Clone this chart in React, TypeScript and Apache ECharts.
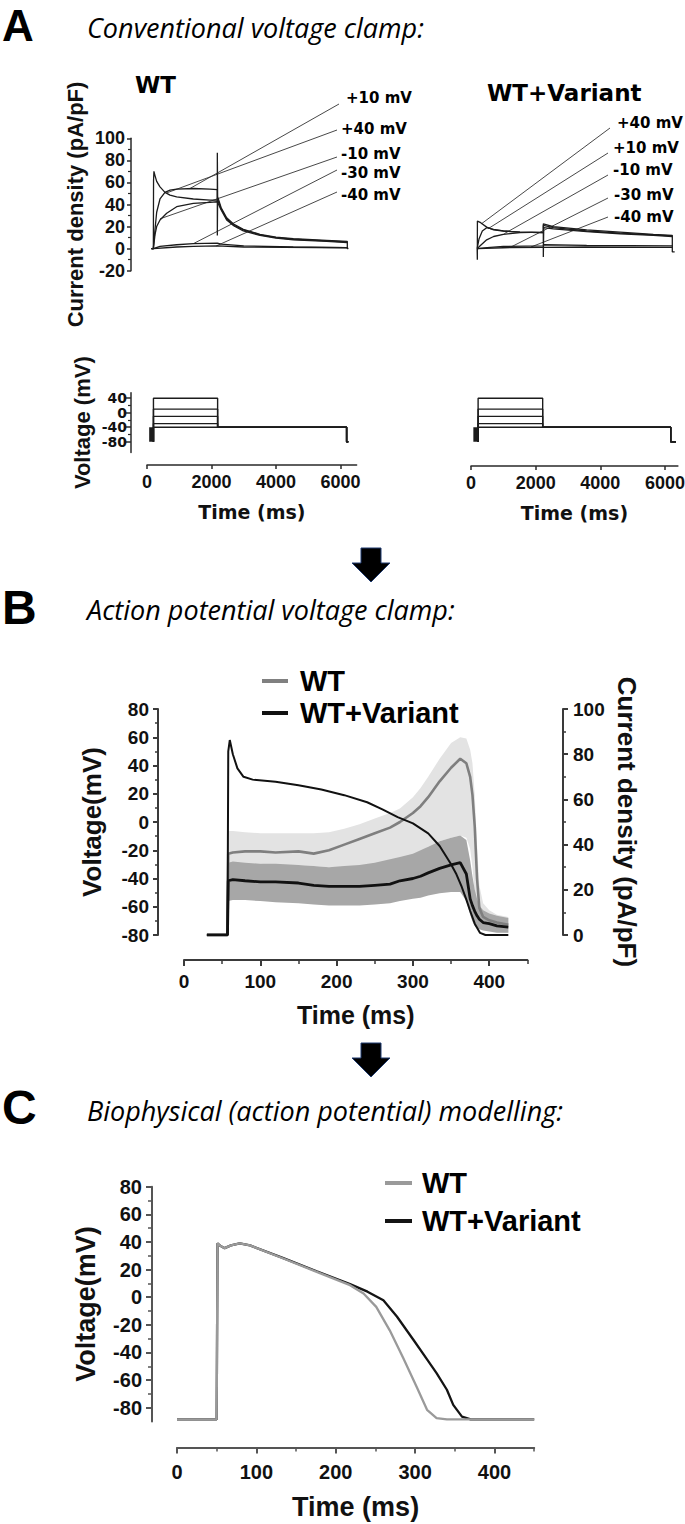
import React, { useEffect, useRef } from 'react';
import * as echarts from 'echarts';

const SANS = 'Liberation Sans, Arial, sans-serif';
const WIDE = 'DejaVu Sans, sans-serif';
const ITAL = 'Open Sans, Lato, sans-serif';

// ---------------- Panel A: conventional voltage clamp ----------------
const stepLabels = ['+40 mV', '+10 mV', '-10 mV', '-30 mV', '-40 mV'];
const testVoltages = [40, 10, -10, -30, -40];
const tailVoltage = -40;
const holdingVoltage = -80;
// [step on, step off, return to holding, end] in ms
const wtStepTimes = [200, 2190, 6190, 6243];
const wvStepTimes = [220, 2217, 6177, 6341];
const wtPrepulseTime = 145;
const wvPrepulseTime = 150;

const aTimeTicks = [0, 2000, 4000, 6000];
const aVoltTicks = [-80, -40, 0, 40];
const aVoltMinor = [-60, -20, 20];

// WT current density traces (ms, pA/pF)
const wtI_p40 = [[140,0],[197,0],[203,62],[215,70],[250,66],[300,61],[403,56],[558,51],[713,48.5],[920,47],[1437,45],[1953,44],[2181,44],[2181,87],[2190,47],[2300,37],[2470,28],[2700,22],[2987,17.5],[3504,13],[4000,10.5],[4537,9],[5571,7.5],[6212,6.5],[6212,0],[6240,0]];
const wtI_p10 = [[140,0],[197,0],[250,18],[300,33],[403,45],[558,51],[713,53],[920,54],[1437,54.5],[1953,54],[2181,53.5],[2181,12],[2190,45],[2300,36],[2470,27],[2700,21],[2987,17],[3504,12.5],[4000,10],[4537,8.5],[5571,7],[6212,6]];
const wtI_m10 = [[140,0],[197,0],[250,13],[300,20],[403,26],[610,32],[920,38],[1437,41],[1953,42],[2181,42.5],[2190,42],[2300,35],[2470,26],[2700,20.5],[2987,16],[3504,12],[4000,9.5],[4537,8],[5571,6.5],[6212,5.5]];
const wtI_m30 = [[140,0],[197,0],[403,2],[920,3.5],[1437,4.5],[2181,5],[2300,4],[3000,2.5],[4537,1.5],[6212,1]];
const wtI_m40 = [[140,0],[197,0],[920,1.5],[1437,2],[2181,2.5],[3000,1.5],[6212,0.8],[6240,0]];

// WT+Variant current density traces (ms, pA/pF)
const wvI_p40 = [[190,0],[196,-10],[198,25],[300,23.5],[485,19.5],[700,17],[1000,16],[1516,15],[2237,14.5],[2237,22.5],[2547,20],[3578,17],[4609,15],[5640,13],[6227,12],[6227,-3],[6300,-3]];
const wvI_p10 = [[190,0],[200,0],[250,9],[350,16],[485,19],[700,17.5],[1000,16],[1516,15],[2237,14.5],[2237,21],[2547,19],[3578,16],[4609,14],[5640,12.5],[6227,11.5]];
const wvI_m10 = [[190,0],[200,0],[300,3],[485,8],[700,11],[1000,13],[1516,14.5],[2237,15],[2237,-7.5],[2250,19],[2547,18],[3578,15.5],[4609,13.5],[5640,12],[6227,11]];
const wvI_m30 = [[190,0],[200,0],[500,1],[1000,2],[2237,2.5],[2250,3.5],[3578,3],[6227,2.5]];
const wvI_m40 = [[190,0],[200,0],[1000,0.8],[2237,1.2],[3578,1.5],[6227,1.2]];

// label annotations: target in data coords, leader start and text anchor in px
const wtAnnot = [
  { label: '+10 mV', target: [1333, 54.5], lineStart: [339, 104], text: [346, 98] },
  { label: '+40 mV', target: [610, 50.5], lineStart: [337, 130], text: [341, 129] },
  { label: '-10 mV', target: [403, 27], lineStart: [337, 157], text: [341, 154] },
  { label: '-30 mV', target: [1437, 4.5], lineStart: [337, 170], text: [341, 173] },
  { label: '-40 mV', target: [2150, 2.5], lineStart: [337, 192], text: [341, 195] },
];
const wvAnnot = [
  { label: '+40 mV', target: [331, 22.7], lineStart: [610, 128], text: [617, 123] },
  { label: '+10 mV', target: [537, 18.2], lineStart: [608, 153], text: [613, 148] },
  { label: '-10 mV', target: [1030, 13.6], lineStart: [608, 175], text: [613, 170] },
  { label: '-30 mV', target: [1237, 1.5], lineStart: [608, 198], text: [614, 195] },
  { label: '-40 mV', target: [1856, 1.5], lineStart: [608, 217], text: [614, 217] },
];

// ---------------- Panel B: action potential voltage clamp ----------------
const tB = [30, 57, 58, 64, 80, 100, 120, 150, 170, 190, 210, 230, 250, 270, 283, 300, 310, 320, 335, 350, 362, 370, 375, 378, 381, 384, 387, 392, 400, 410, 425];
const wtMean = [0,0,36,36.5,37,37,36.5,37,36,37.5,40,42.5,45,47.5,50,54,57,61,68,74,78,76,70,62,48,25,12,8,6.5,5.5,4.5];
const wtHi = [0.5,0.5,46,46,45.5,45,45,45,45,45.5,47,49,51.5,54,56,61,65,70,78,85,87.5,87,82,76,62,40,22,14,11,9,8];
const wtLo = [-0.5,-0.5,30,31.5,31.5,31.5,31,31,30.5,30,30,30.5,31,32,33.5,35,37,39,41.5,43,44,43,38,30,18,8,4,3,2,1.5,1];
const wvMean = [0,0,24,24.5,24,23.5,23.5,23,22,21.5,21.5,21.5,22,22.5,24,25,26,27.5,29.5,31,32,27,16,13,10.5,8.5,7,5.5,5,4,3.5];
const wvHi = [0.5,0.5,32,32.5,32,31.5,31.5,31,30.5,30,30.5,31,32,33.5,34.5,36,37.5,39,41.5,43,44,42,33,26,20,16,13,11,9.5,8.5,7.5];
const wvLo = [-0.5,-0.5,15,15.5,15.5,15,14.5,14,13.5,13,13,13,13.5,14,15,16,16.5,17.5,18.5,19,19,15,9,6,4,3,2.5,2,1.5,1,1];
const tAP = [30,57,58,60,64,70,78,90,120,150,180,210,240,260,280,300,320,335,349,357,364,370,375,381,388,395,425];
const vAP = [-80,-80,50,58,48,38,32,30,28.5,26,23,19,14,9,3.5,-1,-8,-17,-29,-37,-46,-55,-63,-72,-78.5,-80,-80];

const bcTimeTicks = [0, 100, 200, 300, 400];
const bcTimeMinor = [50, 150, 250, 350, 450];

// ---------------- Panel C: modelling ----------------
const cWT = [[0,-88.5],[50,-88.5],[51,39],[55,37],[60,35.5],[68,37.5],[79,39],[92,37.5],[134,28],[176,18.3],[218,8.7],[235,2.7],[251,-7],[268,-24],[285,-44],[302,-65],[315,-81.5],[327,-87.5],[340,-88.5],[450,-88.5]];
const cWV = [[0,-88.5],[50,-88.5],[51,39],[55,37],[60,35.5],[68,37.5],[79,39],[92,37.5],[134,28.3],[176,18.8],[218,9.5],[240,4],[260,-2.2],[277,-14],[298,-31],[315,-45],[327,-55],[340,-67],[348,-78],[359,-86.5],[370,-88.5],[450,-88.5]];
const cVoltTicks = [-80, -60, -40, -20, 0, 20, 40, 60, 80];
const cVoltMinor = [-70, -50, -30, -10, 10, 30, 50, 70];

// ------------------------------------------------------------------
const lineSeries = (name: string, data: any[], xi: number, yi: number, color: string, width: number, z = 2) => ({
  type: 'line', name, data, xAxisIndex: xi, yAxisIndex: yi, symbol: 'none', showSymbol: false,
  lineStyle: { color, width }, itemStyle: { color }, silent: true, z,
});

const stepTrace = (v: number, t: number[]) => [
  [t[0], holdingVoltage], [t[0], v], [t[1], v], [t[1], tailVoltage], [t[2], tailVoltage], [t[2], holdingVoltage], [t[3], holdingVoltage],
];

const bold = (family: string, size: number, extra: any = {}) => ({ fontFamily: family, fontWeight: 'bold', fontSize: size, color: '#111', ...extra });
const axLine = (color: string, width: number) => ({ show: true, onZero: false, lineStyle: { color, width } });
const plain = (v: number) => String(v);

function buildOption() {
  const A_COL = '#2a2a2a';
  const B_COL = '#3a3a3a';
  const C_COL = '#555';
  const grid = [
    { left: 147, top: 138.3, width: 209.6, height: 132.4 },
    { left: 147, top: 392.8, width: 209.6, height: 59.8 },
    { left: 471, top: 138.3, width: 206.9, height: 132.4 },
    { left: 471, top: 392.8, width: 206.9, height: 59.8 },
    { left: 184, top: 709, width: 343.4, height: 226 },
    { left: 177, top: 1186.7, width: 357.2, height: 234.8 },
  ].map((g) => ({ ...g, containLabel: false, outerBoundsMode: 'none' }));

  const hiddenX = (gi: number, max: number) => ({ type: 'value', gridIndex: gi, min: 0, max, show: false, axisLine: { show: false, onZero: false }, splitLine: { show: false } });
  const aTimeAxis = (gi: number, max: number, offset: number) => ({
    type: 'value', gridIndex: gi, min: 0, max, offset, position: 'bottom',
    axisLine: axLine(A_COL, 1.5),
    axisTick: { show: true, customValues: aTimeTicks, length: 4, lineStyle: { color: A_COL, width: 1.5 } },
    axisLabel: { customValues: aTimeTicks, margin: 8, formatter: plain, ...bold(SANS, 18) },
    splitLine: { show: false },
    name: 'Time (ms)', nameLocation: 'middle', nameGap: 37, nameMoveOverlap: false,
    nameTextStyle: bold(WIDE, 19, { lineHeight: 19 }),
  });
  const bcTime = (gi: number, offset: number, color: string, labelSize: number, margin: number, nameSize: number, nameGap: number) => [
    {
      type: 'value', gridIndex: gi, min: 0, max: 450, offset, position: 'bottom',
      axisLine: axLine(color, 2),
      axisTick: { show: true, customValues: bcTimeTicks, length: 6, lineStyle: { color, width: 2 } },
      axisLabel: { customValues: bcTimeTicks, margin, formatter: plain, ...bold(SANS, labelSize) },
      splitLine: { show: false },
      name: 'Time (ms)', nameLocation: 'middle', nameGap, nameMoveOverlap: false,
      nameTextStyle: bold(SANS, nameSize, { lineHeight: nameSize }),
    },
    {
      type: 'value', gridIndex: gi, min: 0, max: 450, offset, position: 'bottom',
      axisLine: { show: false, onZero: false },
      axisTick: { show: true, customValues: bcTimeMinor, length: 4, lineStyle: { color, width: 1.5 } },
      axisLabel: { show: false }, splitLine: { show: false },
    },
  ];

  const xAxis = [
    hiddenX(0, 6500),
    aTimeAxis(1, 6500, 12.4),
    hiddenX(2, 6400),
    aTimeAxis(3, 6400, 13.4),
    ...bcTime(4, 25, B_COL, 19, 12, 25, 42),
    ...bcTime(5, 26, C_COL, 20, 14, 27, 46),
  ];

  const yAxis = [
    {
      type: 'value', gridIndex: 0, position: 'left', min: -20, max: 100, interval: 20, offset: 16,
      axisLine: axLine(A_COL, 1.5),
      axisTick: { show: true, length: 4, lineStyle: { color: A_COL, width: 1.5 } },
      minorTick: { show: true, splitNumber: 2, length: 3, lineStyle: { color: A_COL, width: 1.2 } },
      axisLabel: { margin: 6, formatter: plain, ...bold(SANS, 18) },
      splitLine: { show: false }, minorSplitLine: { show: false },
      name: 'Current density (pA/pF)', nameLocation: 'middle', nameRotate: 90, nameGap: 45, nameMoveOverlap: false,
      nameTextStyle: bold(SANS, 22, { lineHeight: 22 }),
    },
    {
      type: 'value', gridIndex: 1, position: 'left', min: -110, max: 55, offset: 16,
      axisLine: axLine(A_COL, 1.5),
      axisTick: { show: true, customValues: aVoltTicks, length: 5, lineStyle: { color: A_COL, width: 1.5 } },
      axisLabel: { customValues: aVoltTicks, margin: 4, formatter: plain, ...bold(WIDE, 14) },
      splitLine: { show: false },
      name: 'Voltage (mV)', nameLocation: 'middle', nameRotate: 90, nameGap: 38, nameMoveOverlap: false,
      nameTextStyle: bold(SANS, 22, { lineHeight: 22 }),
    },
    {
      type: 'value', gridIndex: 1, position: 'left', min: -110, max: 55, offset: 16,
      axisLine: { show: false, onZero: false },
      axisTick: { show: true, customValues: aVoltMinor, length: 3, lineStyle: { color: A_COL, width: 1.2 } },
      axisLabel: { show: false }, splitLine: { show: false },
    },
    { type: 'value', gridIndex: 2, min: -20, max: 100, show: false, axisLine: { show: false, onZero: false }, splitLine: { show: false } },
    { type: 'value', gridIndex: 3, min: -110, max: 55, show: false, axisLine: { show: false, onZero: false }, splitLine: { show: false } },
    {
      type: 'value', gridIndex: 4, position: 'left', min: -80, max: 80, interval: 20, offset: 26,
      axisLine: axLine(B_COL, 2),
      axisTick: { show: true, length: 5, lineStyle: { color: B_COL, width: 2 } },
      minorTick: { show: true, splitNumber: 2, length: 3, lineStyle: { color: B_COL, width: 1.5 } },
      axisLabel: { margin: 9, formatter: plain, ...bold(SANS, 19) },
      splitLine: { show: false }, minorSplitLine: { show: false },
      name: 'Voltage(mV)', nameLocation: 'middle', nameRotate: 90, nameGap: 53, nameMoveOverlap: false,
      nameTextStyle: bold(SANS, 26, { lineHeight: 26 }),
    },
    {
      type: 'value', gridIndex: 4, position: 'right', min: 0, max: 100, interval: 20, offset: 35.6,
      axisLine: axLine(B_COL, 2),
      axisTick: { show: true, length: 5, lineStyle: { color: B_COL, width: 2 } },
      minorTick: { show: true, splitNumber: 2, length: 3, lineStyle: { color: B_COL, width: 1.5 } },
      axisLabel: { margin: 10, formatter: plain, ...bold(SANS, 19) },
      splitLine: { show: false }, minorSplitLine: { show: false },
      name: 'Current density (pA/pF)', nameLocation: 'middle', nameRotate: -90, nameGap: 51, nameMoveOverlap: false,
      nameTextStyle: bold(SANS, 26, { lineHeight: 26 }),
    },
    {
      type: 'value', gridIndex: 5, position: 'left', min: -90, max: 80, offset: 25,
      axisLine: axLine(C_COL, 2),
      axisTick: { show: true, customValues: cVoltTicks, length: 6, lineStyle: { color: C_COL, width: 2 } },
      axisLabel: { customValues: cVoltTicks, margin: 10, formatter: plain, ...bold(SANS, 20) },
      splitLine: { show: false },
      name: 'Voltage(mV)', nameLocation: 'middle', nameRotate: 90, nameGap: 53, nameMoveOverlap: false,
      nameTextStyle: bold(SANS, 27, { lineHeight: 27 }),
    },
    {
      type: 'value', gridIndex: 5, position: 'left', min: -90, max: 80, offset: 25,
      axisLine: { show: false, onZero: false },
      axisTick: { show: true, customValues: cVoltMinor, length: 4, lineStyle: { color: C_COL, width: 1.5 } },
      axisLabel: { show: false }, splitLine: { show: false },
    },
  ];

  const A_LINE = '#1c1c1c';
  const series: any[] = [];
  // Panel A currents
  [wtI_p40, wtI_p10, wtI_m10, wtI_m30, wtI_m40].forEach((d, i) => series.push(lineSeries('WT ' + stepLabels[i], d, 0, 0, A_LINE, 1.3)));
  [wvI_p40, wvI_p10, wvI_m10, wvI_m30, wvI_m40].forEach((d, i) => series.push(lineSeries('WT+Variant ' + stepLabels[i], d, 2, 3, A_LINE, 1.3)));
  // Panel A voltage protocols
  testVoltages.forEach((v, i) => series.push(lineSeries('WT protocol ' + stepLabels[i], stepTrace(v, wtStepTimes), 1, 1, A_LINE, 1.4)));
  series.push(lineSeries('WT prepulse', [[wtPrepulseTime, holdingVoltage], [wtPrepulseTime, tailVoltage]], 1, 1, A_LINE, 5));
  testVoltages.forEach((v, i) => series.push(lineSeries('WT+Variant protocol ' + stepLabels[i], stepTrace(v, wvStepTimes), 3, 4, A_LINE, 1.4)));
  series.push(lineSeries('WT+Variant prepulse', [[wvPrepulseTime, holdingVoltage], [wvPrepulseTime, tailVoltage]], 3, 4, A_LINE, 5));

  // Panel B SD bands drawn as polygons through the axes' scales
  const band = (name: string, lo: number[], hi: number[], color: string, z: number) => ({
    type: 'custom', name, coordinateSystem: 'cartesian2d', xAxisIndex: 4, yAxisIndex: 6, silent: true, z,
    data: tB.map((t, i) => [t, lo[i], hi[i]]),
    encode: { x: 0, y: [1, 2] },
    renderItem: (params: any, api: any) => {
      if (params.dataIndex !== 0) return null;
      const upper = tB.map((t, i) => api.coord([t, hi[i]]));
      const lower = tB.map((t, i) => api.coord([t, lo[i]])).reverse();
      return { type: 'polygon', shape: { points: upper.concat(lower) }, style: { fill: color } };
    },
  });
  series.push(band('WT SD', wtLo, wtHi, '#e3e3e3', 1));
  series.push(band('WT+Variant SD', wvLo, wvHi, '#a7a7a7', 2));
  series.push(lineSeries('WT', tB.map((t, i) => [t, wtMean[i]]), 4, 6, '#7f7f7f', 2.6, 3));
  series.push(lineSeries('WT+Variant', tB.map((t, i) => [t, wvMean[i]]), 4, 6, '#111', 2.8, 3));
  series.push(lineSeries('AP command', tAP.map((t, i) => [t, vAP[i]]), 4, 5, '#111', 2, 4));

  // Panel C
  series.push(lineSeries('WT', cWT, 6, 7, '#9a9a9a', 2.3, 3));
  series.push(lineSeries('WT+Variant', cWV, 6, 7, '#141414', 2.3, 2));

  const legendBase = {
    orient: 'vertical', padding: 0, icon: 'rect', itemWidth: 26, itemHeight: 4, selectedMode: false,
    itemStyle: { borderWidth: 0 },
  };
  const legend = [
    {
      ...legendBase, left: 262, top: 666, itemGap: 2,
      data: [{ name: 'WT', itemStyle: { color: '#808080', borderWidth: 0 } }, { name: 'WT+Variant', itemStyle: { color: '#111', borderWidth: 0 } }],
      textStyle: bold(SANS, 29, { lineHeight: 30, padding: [0, 0, 0, 7], color: '#000' }),
    },
    {
      ...legendBase, left: 385, top: 1168, itemGap: 8, itemWidth: 27,
      data: [{ name: 'WT', itemStyle: { color: '#9a9a9a', borderWidth: 0 } }, { name: 'WT+Variant', itemStyle: { color: '#141414', borderWidth: 0 } }],
      textStyle: bold(SANS, 29, { lineHeight: 30, padding: [0, 0, 0, 5], color: '#000' }),
    },
  ];

  return { animation: false, backgroundColor: '#ffffff', textStyle: { fontFamily: SANS }, grid, xAxis, yAxis, series, legend };
}

const txt = (text: string, x: number, y: number, font: string, size: number, weight: string, style: string = 'normal') => ({
  type: 'text', x, y, silent: true,
  style: {
    text, fontFamily: font, fontSize: size, fontWeight: weight, fontStyle: style, fill: '#000',
    align: 'left', verticalAlign: 'middle', textAlign: 'left', textVerticalAlign: 'middle',
  },
});

const arrow = (cx: number, top: number) => ({
  type: 'polygon', silent: true,
  shape: { points: [[cx - 10, top], [cx + 10, top], [cx + 10, top + 15], [cx + 19, top + 15], [cx, top + 34], [cx - 19, top + 15], [cx - 10, top + 15]] },
  style: { fill: '#000', stroke: '#1f3b70', lineWidth: 1 },
});

export default function App() {
  const ref = useRef<HTMLDivElement>(null);
  useEffect(() => {
    if (!ref.current) return;
    const chart = echarts.init(ref.current, undefined, { renderer: 'svg' });
    chart.setOption(buildOption() as any);

    const graphic: any[] = [
      txt('A', 2, 25.5, SANS, 44, 'bold'),
      txt('Conventional voltage clamp:', 87, 27, ITAL, 27, 'normal', 'italic'),
      txt('B', 2, 607.5, SANS, 48, 'bold'),
      txt('Action potential voltage clamp:', 87, 609, ITAL, 27, 'normal', 'italic'),
      txt('C', 2, 1107.5, SANS, 48, 'bold'),
      txt('Biophysical (action potential) modelling:', 87, 1110, ITAL, 27, 'normal', 'italic'),
      txt('WT', 135, 85, WIDE, 23, 'bold'),
      txt('WT+Variant', 487, 93, WIDE, 23, 'bold'),
      arrow(371, 548),
      arrow(371, 1043),
    ];
    const addAnnots = (list: any[], xi: number, yi: number) => {
      list.forEach((a) => {
        const p = chart.convertToPixel({ xAxisIndex: xi, yAxisIndex: yi } as any, a.target) as number[];
        graphic.push({ type: 'line', silent: true, shape: { x1: p[0], y1: p[1], x2: a.lineStart[0], y2: a.lineStart[1] }, style: { stroke: '#333', lineWidth: 0.9 } });
        graphic.push(txt(a.label, a.text[0], a.text[1], WIDE, 15, 'bold'));
      });
    };
    addAnnots(wtAnnot, 0, 0);
    addAnnots(wvAnnot, 2, 3);
    chart.setOption({ graphic });
    return () => chart.dispose();
  }, []);
  return <div ref={ref} style={{ position: 'absolute', left: 0, top: 0, width: 685, height: 1524, background: '#fff' }} />;
}
